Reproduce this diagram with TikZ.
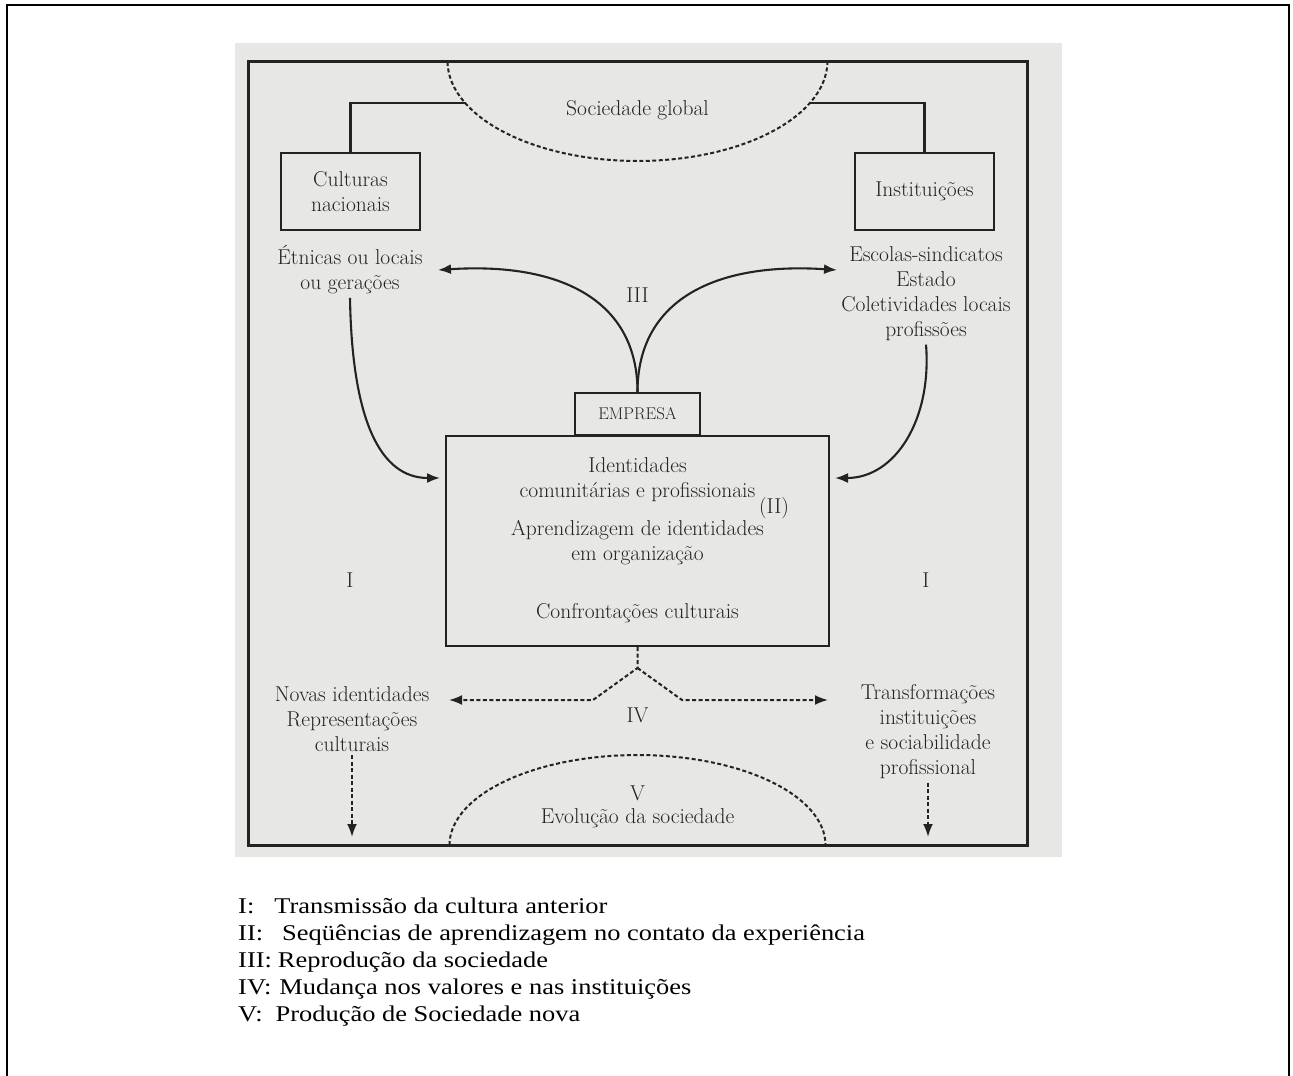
\documentclass[tikz,border=0pt]{standalone}
\usepackage{fontspec}
\newfontfamily\legfont{Liberation Serif}[FakeStretch=1.175]
\usetikzlibrary{arrows.meta,positioning}
\definecolor{ScanGray}{RGB}{231,231,229}
\definecolor{InkGray}{RGB}{35,35,35}

\begin{document}
\begin{tikzpicture}[x=1pt,y=-1pt,>={Latex[length=13pt,width=10pt]},
  ink/.style={InkGray,line width=2.1pt},
  dashes/.style={InkGray,line width=2pt,dash pattern=on 4pt off 2.5pt},
  txt/.style={text=InkGray,align=center,font=\fontsize{21.5}{25}\selectfont},
  box/.style={txt,draw=InkGray,line width=2.1pt,inner sep=0pt}]
  \useasboundingbox (0,0) rectangle (1293,1076);
  \draw[line width=2.5pt] (7,1076) -- (7,5) -- (1289,5) -- (1289,1076);
  \fill[ScanGray] (235,43) rectangle (1062,857);
  \draw[ink,line width=3pt] (248,61) rectangle (1027,845);

  % sociedade global
  \draw[dashes] plot[domain=0:180,samples=60] ({637.5+190*cos(\x)},{61+100*sin(\x)});
  \node[txt] (soc) at (637.5,110) {Sociedade global};
  \coordinate (socL) at (466,103);
  \coordinate (socR) at (809,103);
  \node[box,minimum width=139pt,minimum height=77pt] (cult) at (350.5,191.5) {Culturas\\nacionais};
  \node[box,minimum width=139pt,minimum height=77pt] (inst) at (924.5,191.5) {Instituições};
  \draw[ink] (cult.north) |- (socL);
  \draw[ink] (inst.north) |- (socR);

  % III
  \node[txt] (etn) at (350,270) {Étnicas ou locais\\ou gerações};
  \node[txt] (esc) at (926,294) {Escolas-sindicatos\\Estado\\Coletividades locais\\profissões};
  \node[box,minimum width=125pt,minimum height=42pt,font=\fontsize{17}{20}\selectfont] (emp) at (637.5,414) {EMPRESA};
  \node[box,minimum width=383pt,minimum height=210pt] (ident) at (637.5,541) {};
  \coordinate (tipIIIL) at (438,270);
  \coordinate (tipIIIR) at (837,270);
  \draw[ink,->] (emp.north) .. controls (637.5,300) and (560,262) .. (tipIIIL);
  \draw[ink,->] (emp.north) .. controls (637.5,300) and (715,262) .. (tipIIIR);
  \node[txt] (iii) at (637.5,295) {III};

  % I
  \coordinate (tipIL) at (440,478);
  \coordinate (tipIR) at (835,478);
  \draw[ink,->] (etn.south) .. controls (352,420) and (380,478) .. (tipIL);
  \draw[ink,->] (esc.south) .. controls (932,420) and (895,478) .. (tipIR);
  \node[txt] (iL) at (350,580) {I};
  \node[txt] (iR) at (926,580) {I};

  % identidades
  \node[txt] (idt) at (637.5,480) {Identidades\\comunitárias e profissionais};
  \node[txt] (ii) at (774,508) {(II)};
  \node[txt] (apr) at (637.5,543) {Aprendizagem de identidades\\em organização};
  \node[txt] (conf) at (637.5,613) {Confrontações culturais};

  % IV
  \coordinate (peak) at (637.5,668);
  \coordinate (tipIVL) at (449,700);
  \coordinate (tipIVR) at (828,700);
  \draw[dashes,->] (ident.south) -- (peak) -- (593,700) -- (tipIVL);
  \draw[dashes,->] (peak) -- (682,700) -- (tipIVR);
  \node[txt] (iv) at (637.5,715) {IV};
  \node[txt] (nov) at (352,719) {Novas identidades\\Representações\\culturais};
  \node[txt] (tra) at (928,732) {Transformações\\instituições\\e sociabilidade\\profissional};
  \coordinate (downL) at (352,837);
  \coordinate (downR) at (928,837);
  \draw[dashes,->] (nov.south) -- (downL);
  \draw[dashes,->] (tra.south) -- (downR);

  % V
  \draw[dashes] plot[domain=180:360,samples=60] ({637.5+188*cos(\x)},{845+90*sin(\x)});
  \node[txt] (v) at (637.5,793) {V};
  \node[txt] (evo) at (637.5,818) {Evolução da sociedade};

  % legenda
  \begin{scope}[every node/.style={anchor=base west,inner sep=0pt,font=\legfont\fontsize{22.5}{27}\selectfont}]
    \node (leg1) at (238,913) {I:\hspace{20pt}Transmissão da cultura anterior};
    \node (leg2) at (238,940) {II:\hspace{19pt}Seqüências de aprendizagem no contato da experiência};
    \node (leg3) at (238,967) {III:\hspace{6pt}Reprodução da sociedade};
    \node (leg4) at (238,994) {IV:\hspace{8pt}Mudança nos valores e nas instituições};
    \node (leg5) at (238,1021) {V:\hspace{13pt}Produção de Sociedade nova};
  \end{scope}
\end{tikzpicture}
\end{document}
